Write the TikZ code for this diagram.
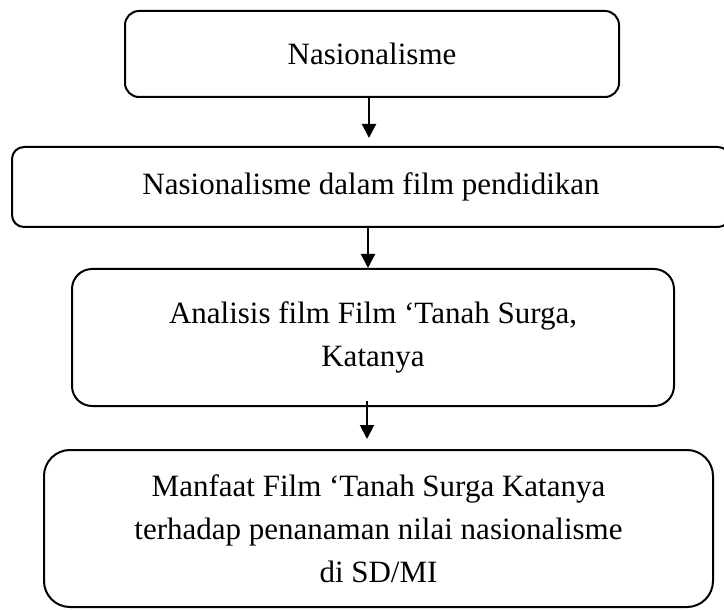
\documentclass[tikz,border=0pt]{standalone}
\usepackage{fontspec}
\setmainfont{Liberation Serif}
\usetikzlibrary{arrows.meta}

\begin{document}
\begin{tikzpicture}[x=0.5pt, y=-0.5pt,
    box/.style={rectangle, draw, line width=1pt, align=center, inner sep=0pt,
        font=\fontsize{15.5}{21.5}\selectfont},
    flow/.style={-{Triangle[length=7pt, width=7pt]}, line width=1pt}
]
    \useasboundingbox (0,0) rectangle (724,610);

    % alur penelitian
    \node[box, rounded corners=7pt, minimum width=247pt, minimum height=43pt] (nas) at (372,54) {Nasionalisme};
    \node[box, rounded corners=6pt, minimum width=359pt, minimum height=40pt] (film) at (371,187) {Nasionalisme dalam film pendidikan};
    \node[box, rounded corners=10pt, minimum width=301pt, minimum height=68.5pt] (analisis) at (373,337.5) {Analisis film Film ‘Tanah Surga,\\Katanya};
    \node[box, rounded corners=13pt, minimum width=334.5pt, minimum height=78.5pt] (manfaat) at (378.5,528.5) {Manfaat Film ‘Tanah Surga Katanya\\terhadap penanaman nilai nasionalisme\\di SD/MI};

    \draw[flow, shorten >=4pt] ([xshift=-1.5pt]nas.south) -- ([xshift=-1.5pt]nas.south |- film.north);
    \draw[flow] ([xshift=-1.5pt]film.south) -- ([xshift=-1.5pt]film.south |- analisis.north);
    \draw[flow, shorten <=-3pt, shorten >=5pt] ([xshift=-3pt]analisis.south) -- ([xshift=-3pt]analisis.south |- manfaat.north);
\end{tikzpicture}
\end{document}
